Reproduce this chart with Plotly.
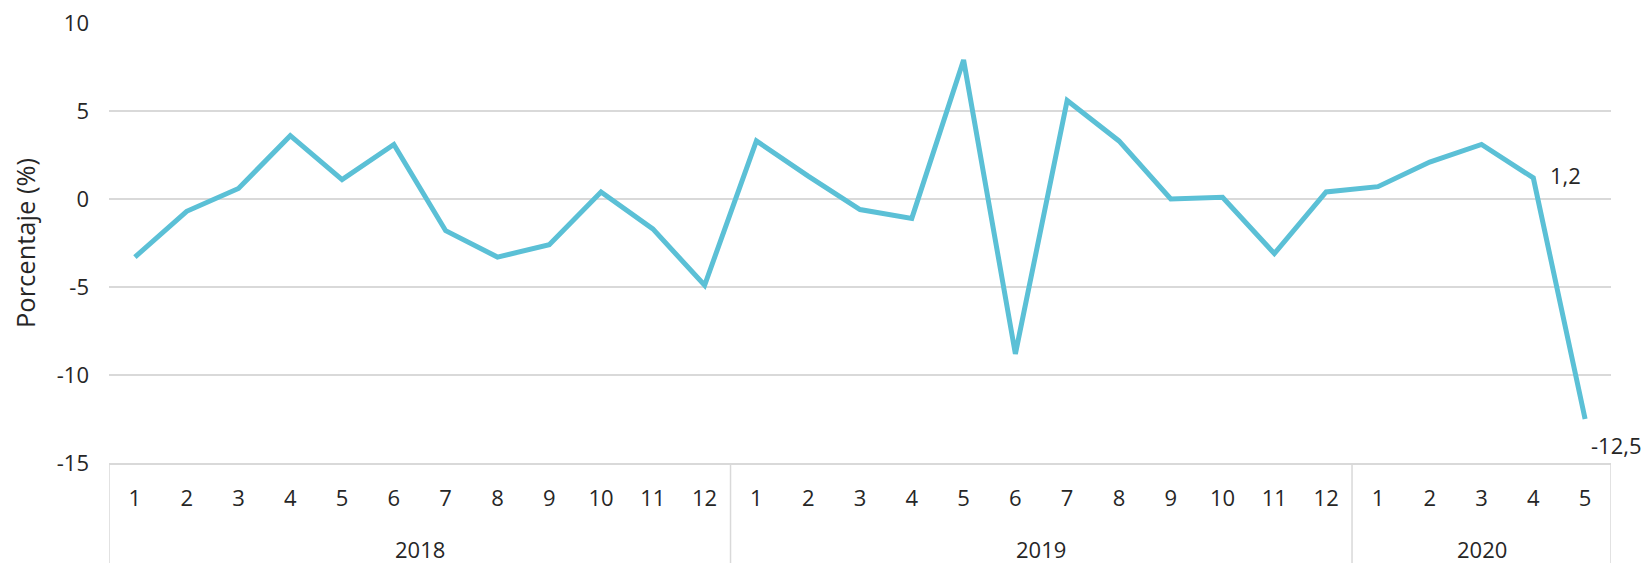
import plotly.graph_objects as go

# Monthly variation (%), grouped by year
year_labels = ["2018", "2019", "2020"]
months_2018 = ["1", "2", "3", "4", "5", "6", "7", "8", "9", "10", "11", "12"]
months_2019 = ["1", "2", "3", "4", "5", "6", "7", "8", "9", "10", "11", "12"]
months_2020 = ["1", "2", "3", "4", "5"]
values_2018 = [-3.3, -0.7, 0.6, 3.6, 1.1, 3.1, -1.8, -3.3, -2.6, 0.4, -1.7, -4.9]
values_2019 = [3.3, 1.3, -0.6, -1.1, 7.9, -8.8, 5.6, 3.3, 0.0, 0.1, -3.1, 0.4]
values_2020 = [0.7, 2.1, 3.1, 1.2, -12.5]

y_ticks = [-15, -10, -5, 0, 5, 10]
y_ticktext = ["-15", "-10", "-5", "0", "5", "10"]
y_title = "Porcentaje (%)"

month_groups = [months_2018, months_2019, months_2020]
months = months_2018 + months_2019 + months_2020
values = values_2018 + values_2019 + values_2020
idx = list(range(len(values)))

FONT = "Open Sans"
TEXT = "#262626"
GRID = "#d9d9d9"
LINE = "#5bc0d6"
FS = 22

fig = go.Figure()
fig.add_trace(go.Scatter(
    x=idx,
    y=values,
    mode="lines",
    line=dict(color=LINE, width=5),
    hoverinfo="skip",
))

# Value labels on the last two points
def fmt(v):
    return f"{v:.1f}".replace(".", ",")

fig.add_annotation(x=idx[-2], y=values[-2], text=fmt(values[-2]),
                   showarrow=False, xanchor="left", yanchor="middle",
                   xshift=15, yshift=3, font=dict(family=FONT, size=FS, color=TEXT))
fig.add_annotation(x=idx[-1], y=values[-1], text=fmt(values[-1]),
                   showarrow=False, xanchor="left", yanchor="middle",
                   xshift=4, yshift=-26, font=dict(family=FONT, size=FS, color=TEXT))

# Year row and group dividers below the month labels
start = 0
bounds = [-0.5]
for label, group in zip(year_labels, month_groups):
    end = start + len(group)
    fig.add_annotation(x=(start + end - 1) / 2, y=0, xref="x", yref="paper",
                       text=label, showarrow=False, yanchor="middle",
                       yshift=-86, font=dict(family=FONT, size=FS, color=TEXT))
    bounds.append(end - 0.5)
    start = end

for b in bounds:
    fig.add_shape(type="line", xref="x", yref="paper",
                  x0=b, x1=b, ysizemode="pixel", yanchor=0, y0=0, y1=-102,
                  line=dict(color=GRID, width=1.5), layer="below")

# Vertical y-axis title at the far left
fig.add_annotation(x=0, y=0.5, xref="paper", yref="paper", text=y_title,
                   textangle=-90, showarrow=False, xanchor="center", yanchor="middle",
                   xshift=-84, font=dict(family=FONT, size=25.5, color=TEXT))

fig.update_layout(
    width=1643, height=563,
    margin=dict(l=109, r=32, t=23, b=100),
    paper_bgcolor="white", plot_bgcolor="white",
    showlegend=False,
    font=dict(family=FONT, size=FS, color=TEXT),
    xaxis=dict(
        range=[-0.5, len(values) - 0.5],
        tickvals=idx,
        ticktext=months,
        showgrid=False,
        zeroline=False,
        showline=True, linecolor=GRID, linewidth=1.5,
        tickfont=dict(family=FONT, size=FS, color=TEXT),
        ticks="outside", ticklen=15, tickcolor="rgba(0,0,0,0)",
        automargin=False,
    ),
    yaxis=dict(
        range=[y_ticks[0], y_ticks[-1]],
        tickvals=y_ticks,
        ticktext=y_ticktext,
        showgrid=True, gridcolor=GRID, gridwidth=1.5,
        zeroline=False,
        showline=False,
        ticks="",
        ticklabelstandoff=19,
        tickfont=dict(family=FONT, size=FS, color=TEXT),
        automargin=False,
    ),
)

fig.write_html("out.html")
